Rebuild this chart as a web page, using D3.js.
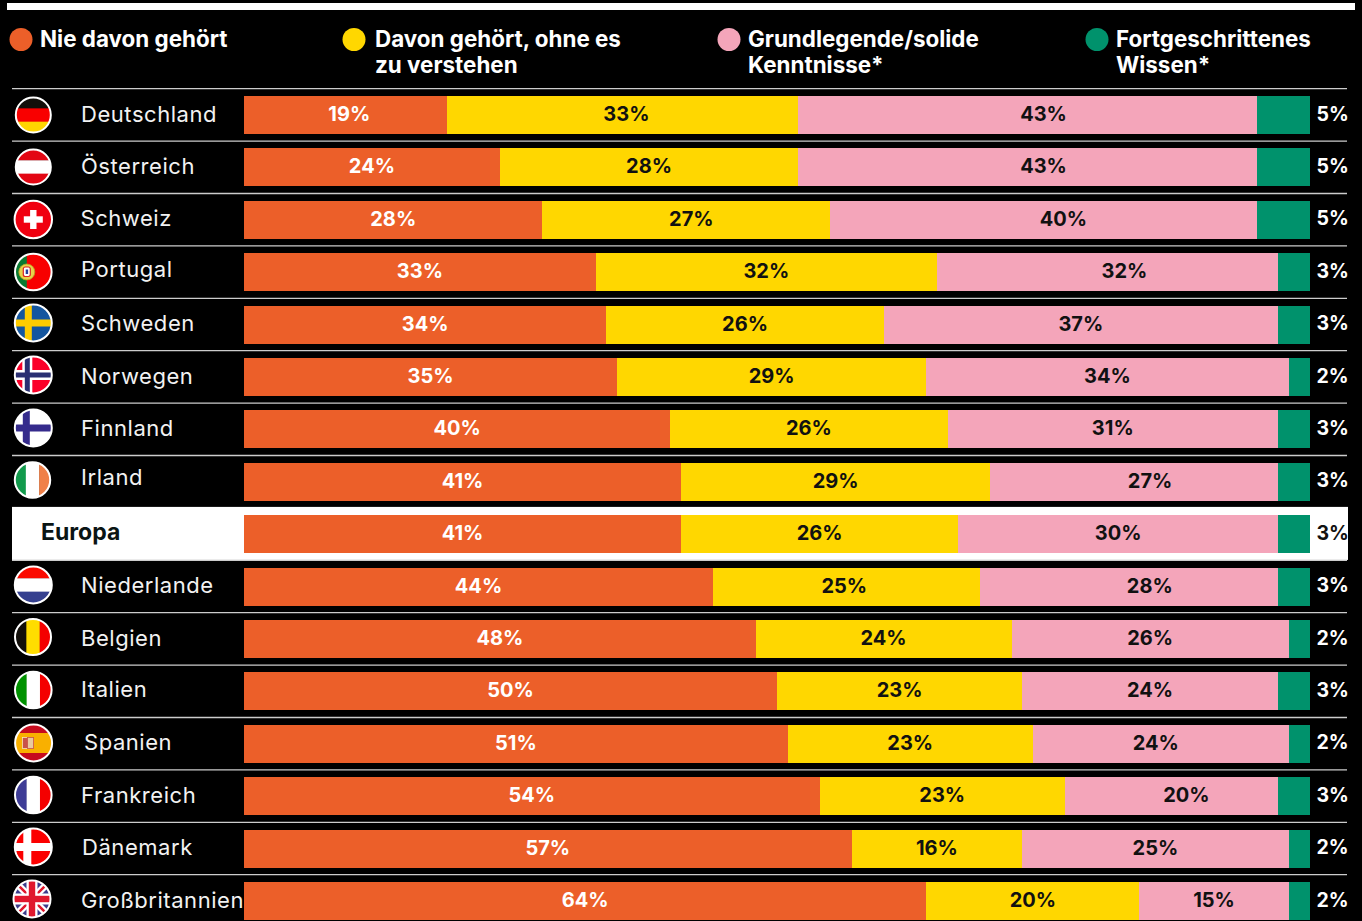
<!DOCTYPE html>
<html lang="de">
<head>
<meta charset="utf-8">
<title>Kenntnisse Europa</title>
<script src="https://cdn.jsdelivr.net/npm/d3@7"></script>
<style>
  html, body { margin: 0; padding: 0; background: #000; overflow: hidden; }
  svg { display: block; }
  text { font-family: Inter, "Open Sans", sans-serif; }
</style>
</head>
<body>
<script>
var countries = ["Deutschland","Österreich","Schweiz","Portugal","Schweden","Norwegen","Finnland","Irland","Europa","Niederlande","Belgien","Italien","Spanien","Frankreich","Dänemark","Großbritannien"];
var seriesNames = [["Nie davon gehört"],["Davon gehört, ohne es","zu verstehen"],["Grundlegende/solide","Kenntnisse*"],["Fortgeschrittenes","Wissen*"]];

var never    = [19,24,28,33,34,35,40,41,41,44,48,50,51,54,57,64];
var heard    = [33,28,27,32,26,29,26,29,26,25,24,23,23,23,16,20];
var basic    = [43,43,40,32,37,34,31,27,30,28,26,24,24,20,25,14]; // bar length as drawn
var advanced = [ 5, 5, 5, 3, 3, 2, 3, 3, 3, 3, 2, 3, 2, 3, 2, 2];
// printed label differs from the drawn bar in the last row
var basicLabels = [43,43,40,32,37,34,31,27,30,28,26,24,24,20,25,15];

// the labels are not always centred in their segment in the original
var heardShift = [4,0,5,0,0,0,0,0,0,-2,0,0,0,0,0,0];
var basicShift = [16,16,20,17,0,0,0,16,0,21,0,0,-5,15,0,0];
var neverShift = [4,0,0,0,0,0,0,0,0,0,0,0,0,0,0,0];
var nameX = [81,81,80.5,81,81,81,81,81,41,81,81,81,84,81,82,81];
var nameDy = [0,0,0,-2,0,0,0,-3,-1,0,0,-1,0,0,0,0];

var colors = ["#EC5F29","#FFD700","#F4A5BA","#00926C"];
var width = 1362, height = 921;
var rowStep = 52.4, barTop = 96, barH = 38;

var rows = countries.map(function(c, i) {
  return { name: c, never: never[i], heard: heard[i], basic: basic[i], advanced: advanced[i], i: i };
});
var keys = ["never","heard","basic","advanced"];
var stack = d3.stack().keys(keys)(rows);

var x = d3.scaleLinear().domain([0,100]).range([244,1310]);
var y = d3.scaleBand().domain(countries).range([barTop, barTop + rowStep*16]).paddingInner(0).paddingOuter(0);

var svg = d3.select("body").append("svg").attr("width", width).attr("height", height);
svg.append("rect").attr("width", width).attr("height", height).attr("fill", "#000");

// top band
svg.append("rect").attr("x",7).attr("y",3).attr("width",1348).attr("height",7).attr("fill","#fff");

// legend
var legendX = [21,354,729,1097], legendTextX = [40,375,748,1116];
var legend = svg.append("g").selectAll("g").data(seriesNames).enter().append("g");
legend.append("circle")
  .attr("cx", function(d,i){ return legendX[i]; })
  .attr("cy", 39.5).attr("r", 11.5)
  .attr("fill", function(d,i){ return colors[i]; });
legend.each(function(d,i) {
  d3.select(this).selectAll("text").data(d).enter().append("text")
    .attr("x", legendTextX[i])
    .attr("y", function(l,j){ return 46.5 + j*26; })
    .attr("font-size", 22.4).attr("font-weight", 700).attr("fill", "#fff")
    .text(function(l){ return l; });
});

// separators
svg.append("g").selectAll("line").data(countries).enter().append("line")
  .attr("x1",12).attr("x2",1347)
  .attr("y1", function(d){ return y(d) - 7.3; })
  .attr("y2", function(d){ return y(d) - 7.3; })
  .attr("stroke","#ccc").attr("stroke-width",1.3);

// Europa row
svg.append("rect").attr("x",12).attr("y", y("Europa") - 8.3).attr("width",1336).attr("height",rowStep + 0.6).attr("fill","#fff");

// bars
var segs = svg.append("g").selectAll("g").data(stack).enter().append("g")
  .attr("fill", function(d,i){ return colors[i]; })
  .attr("shape-rendering","crispEdges");
segs.selectAll("rect").data(function(d){ return d; }).enter().append("rect")
  .attr("x", function(d){ return x(d[0]); })
  .attr("width", function(d){ return x(d[1]) - x(d[0]); })
  .attr("y", function(d){ return y(d.data.name); })
  .attr("height", barH);

// value labels
var labelDefs = [
  { vals: never, shift: neverShift, fill: "#fff", s: 0 },
  { vals: heard, shift: heardShift, fill: "#111", s: 1 },
  { vals: basicLabels, shift: basicShift, fill: "#111", s: 2 }
];
labelDefs.forEach(function(def) {
  svg.append("g").selectAll("text").data(stack[def.s]).enter().append("text")
    .attr("x", function(d,i){ return (x(d[0]) + x(d[1]))/2 + def.shift[i]; })
    .attr("y", function(d){ return y(d.data.name) + barH/2 + 6; })
    .attr("text-anchor","middle").attr("font-size",20).attr("font-weight",700)
    .attr("fill", def.fill)
    .text(function(d,i){ return def.vals[i] + "%"; });
});
svg.append("g").selectAll("text").data(rows).enter().append("text")
  .attr("x",1316.5)
  .attr("y", function(d){ return y(d.name) + barH/2 + 5.5; })
  .attr("font-size",19.5).attr("font-weight",700)
  .attr("fill", function(d){ return d.name === "Europa" ? "#111" : "#fff"; })
  .text(function(d){ return d.advanced + "%"; });

// names
svg.append("g").selectAll("text").data(rows).enter().append("text")
  .attr("x", function(d,i){ return nameX[i]; })
  .attr("y", function(d,i){ return y(d.name) + barH/2 + 6.5 + nameDy[i]; })
  .attr("font-size", function(d){ return d.name === "Europa" ? 23 : 22; })
  .attr("font-weight", function(d){ return d.name === "Europa" ? 700 : 400; })
  .attr("letter-spacing", function(d){ return d.name === "Europa" ? 0 : 0.55; })
  .attr("fill", function(d){ return d.name === "Europa" ? "#0a1414" : "#f2f2f2"; })
  .text(function(d){ return d.name; });

// flags
var defs = svg.append("defs");
function stripesH(g, cols) { cols.forEach(function(c,i){ g.append("rect").attr("x",-20).attr("y",-20 + i*40/cols.length).attr("width",40).attr("height",40/cols.length + 0.3).attr("fill",c); }); }
function stripesV(g, cols) { cols.forEach(function(c,i){ g.append("rect").attr("y",-20).attr("x",-20 + i*40/cols.length).attr("height",40).attr("width",40/cols.length + 0.3).attr("fill",c); }); }
function cross(g, bg, cx, w, col) {
  g.append("rect").attr("x",-20).attr("y",-20).attr("width",40).attr("height",40).attr("fill",bg);
  g.append("rect").attr("x",cx - w/2).attr("y",-20).attr("width",w).attr("height",40).attr("fill",col);
  g.append("rect").attr("x",-20).attr("y",-w/2).attr("width",40).attr("height",w).attr("fill",col);
}
function cross2(g, cx, w, col) {
  g.append("rect").attr("x",cx - w/2).attr("y",-20).attr("width",w).attr("height",40).attr("fill",col);
  g.append("rect").attr("x",-20).attr("y",-w/2).attr("width",40).attr("height",w).attr("fill",col);
}
var flags = {
  "Deutschland": function(g){ stripesH(g,["#120f0a","#f90000","#ffd500"]); },
  "Österreich": function(g){ stripesH(g,["#e30613","#fff","#e30613"]); },
  "Schweiz": function(g){
    g.append("rect").attr("x",-20).attr("y",-20).attr("width",40).attr("height",40).attr("fill","#f00010");
    g.append("rect").attr("x",-9.5).attr("y",-3.2).attr("width",19).attr("height",6.4).attr("fill","#fff");
    g.append("rect").attr("x",-3.2).attr("y",-9.5).attr("width",6.4).attr("height",19).attr("fill","#fff");
  },
  "Portugal": function(g){
    g.append("rect").attr("x",-20).attr("y",-20).attr("width",40).attr("height",40).attr("fill","#f80000");
    g.append("rect").attr("x",-20).attr("y",-20).attr("width",13.5).attr("height",40).attr("fill","#0a7a32");
    g.append("circle").attr("cx",-6.5).attr("r",8).attr("fill","#e8d24a").attr("stroke","#b8a020").attr("stroke-width",0.8);
    g.append("rect").attr("x",-10).attr("y",-5).attr("width",7).attr("height",9.5).attr("rx",2).attr("fill","#fff").attr("stroke","#d22").attr("stroke-width",1.2);
    g.append("rect").attr("x",-7.6).attr("y",-2.5).attr("width",2.4).attr("height",4.5).attr("fill","#2a3f9a");
  },
  "Schweden": function(g){ cross(g,"#14569f",-5,7,"#fecc00"); },
  "Norwegen": function(g){ cross(g,"#fb0029",-6,10,"#fff"); cross2(g,-6,5,"#2a2f72"); },
  "Finnland": function(g){ cross(g,"#fff",-7,7,"#352b8c"); },
  "Irland": function(g){ stripesV(g,["#129a4c","#fff","#f08048"]); },
  "Niederlande": function(g){ stripesH(g,["#fb0a00","#fff","#35408f"]); },
  "Belgien": function(g){ stripesV(g,["#120f0a","#ffdd00","#f40000"]); },
  "Italien": function(g){ stripesV(g,["#009200","#fff","#f40000"]); },
  "Spanien": function(g){
    stripesH(g,["#c60b1e","#f9b000","#f9b000","#c60b1e"]);
    g.append("rect").attr("x",-11).attr("y",-5.5).attr("width",6).attr("height",11).attr("fill","#c9524a").attr("stroke","#f2e2c0").attr("stroke-width",0.8);
    g.append("rect").attr("x",-6).attr("y",-5.5).attr("width",6).attr("height",11).attr("fill","#e9c9a0").attr("stroke","#c9524a").attr("stroke-width",0.8);
  },
  "Frankreich": function(g){ stripesV(g,["#3e3c96","#fff","#f40000"]); },
  "Dänemark": function(g){ cross(g,"#fb0000",-6,8,"#fff"); },
  "Großbritannien": function(g){
    g.append("rect").attr("x",-20).attr("y",-20).attr("width",40).attr("height",40).attr("fill","#3c3b8c");
    g.append("path").attr("d","M-20,-20L20,20M20,-20L-20,20").attr("stroke","#fff").attr("stroke-width",7);
    g.append("path").attr("d","M-20,-20L20,20M20,-20L-20,20").attr("stroke","#e0182d").attr("stroke-width",2.5);
    g.append("rect").attr("x",-20).attr("y",-5.5).attr("width",40).attr("height",11).attr("fill","#fff");
    g.append("rect").attr("x",-5.5).attr("y",-20).attr("width",11).attr("height",40).attr("fill","#fff");
    g.append("rect").attr("x",-20).attr("y",-3.2).attr("width",40).attr("height",6.4).attr("fill","#e0182d");
    g.append("rect").attr("x",-3.2).attr("y",-20).attr("width",6.4).attr("height",40).attr("fill","#e0182d");
  }
};
var flagCx = [33.3,33.3,33.3,33.3,33.3,33.3,33.3,32.5,0,33.3,33,33.3,33.6,33.3,33.3,32];
var flagCy = [115,167,219.5,272,323,375,428,480,0,585,637,690,743,795,847,899];
var flagRs = [18.5,18.5,19.7,19.3,19.5,19.5,19.5,18.7,0,19.5,19,19.3,19.5,19.3,19.5,19.5];
rows.forEach(function(d,i) {
  if (!flags[d.name]) return;
  var R = flagRs[i];
  defs.append("clipPath").attr("id","flagClip" + i).append("circle").attr("r",R - 1);
  var g = svg.append("g").attr("transform","translate(" + flagCx[i] + "," + flagCy[i] + ")");
  var inner = g.append("g").attr("clip-path","url(#flagClip" + i + ")");
  flags[d.name](inner);
  g.append("circle").attr("r",R - 1).attr("fill","none").attr("stroke","#fff").attr("stroke-width",2);
});
</script>
</body>
</html>
